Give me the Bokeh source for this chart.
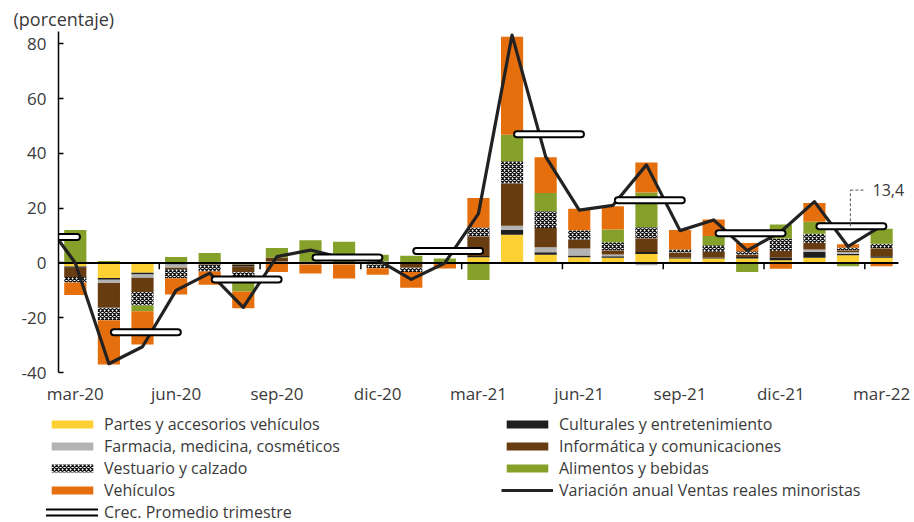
import numpy as np
from bokeh.plotting import figure
from bokeh.models import Range1d, FixedTicker, Legend, LegendItem, Label
from bokeh.embed import file_html
from bokeh.resources import INLINE

# ---------------- data ----------------
months = ["mar-20", "abr-20", "may-20", "jun-20", "jul-20", "ago-20", "sep-20",
          "oct-20", "nov-20", "dic-20", "ene-21", "feb-21", "mar-21", "abr-21",
          "may-21", "jun-21", "jul-21", "ago-21", "sep-21", "oct-21", "nov-21",
          "dic-21", "ene-22", "feb-22", "mar-22"]
tick_months = ["mar-20", "jun-20", "sep-20", "dic-20", "mar-21", "jun-21",
               "sep-21", "dic-21", "mar-22"]

partes = [-1.3, -5.5, -3.6, -0.3, -0.2, -0.6, -0.3, 0, 0, 0, 0, 0.3, 2.1, 10.3,
          3.0, 2.1, 1.9, 3.3, 1.6, 1.6, 1.6, 1.0, 1.9, 2.8, 1.9]
culturales = [-0.5, -0.6, -0.6, -0.3, 0, -0.7, 0, 0, 0, -0.3, -0.3, 0, 0.4, 1.8,
              0.9, 0.6, 0.5, 0.7, 0.4, 0.4, 0.6, 1.0, 2.1, 0.6, 0.5]
farmacia = [0, -1.2, -1.2, -1.2, 0, 0, 0.5, -0.6, -0.6, 0.6, 0, 0, 0, 1.5,
            1.8, 2.6, 0.7, -0.8, 0, 0, 0, 0, 0.9, 0.6, 0]
informatica = [-3.3, -9.1, -5.2, -0.5, -0.5, -2.1, 1.5, 0.5, 0, -0.3, -1.5, -0.2,
               7.2, 15.5, 7.1, 3.3, 1.5, 5.0, 1.8, 2.1, 0.9, 2.4, 2.4, 0.6, 3.0]
vestuario = [-2.0, -4.5, -4.9, -3.3, -2.4, -3.0, 0, 0, 0, -1.3, -1.5, 0, 3.2, 8.0,
             6.1, 3.3, 3.0, 4.0, 1.1, 2.4, 1.2, 4.5, 3.4, 1.0, 1.6]
alimentos = [12.0, 0.7, -2.1, 2.2, 3.6, -4.0, 3.5, 7.8, 7.7, 2.4, 2.6, 1.3, -6.2,
             9.7, 6.6, 0, 4.6, 12.7, 0, 3.3, -3.3, 5.1, 4.3, -1.2, 5.5]
vehiculos = [-4.6, -16.2, -12.2, -5.9, -4.9, -6.1, -3.0, -3.3, -5.1, -2.4, -5.8,
             -1.8, 10.8, 35.8, 13.1, 7.9, 8.5, 11.0, 7.1, 6.1, 3.0, -2.1, 6.9, 1.2, -1.2]

# monthly line (starts feb-20, just left of the axis)
line_months = ["feb-20"] + months
ventas = [16.8, 0.0, -36.8, -30.6, -10.0, -3.7, -16.2, 2.3, 4.7, 1.7, 1.1, -6.0,
          0.0, 18.0, 83.2, 38.8, 19.3, 21.0, 35.8, 11.8, 15.7, 4.5, 11.4, 22.4,
          6.0, 13.5]

# quarterly average growth (Q1-20 ... Q1-22)
quarters = ["T1-20", "T2-20", "T3-20", "T4-20", "T1-21", "T2-21", "T3-21",
            "T4-21", "T1-22"]
prom_trim = [9.5, -25.3, -6.0, 2.0, 4.4, 47.0, 22.9, 10.8, 13.4]

y_ticks = [-40, -20, 0, 20, 40, 60, 80]
last_label = "13,4"

series = [
    ("Partes y accesorios vehículos", partes, "#FDD034", None),
    ("Culturales y entretenimiento", culturales, "#1F1F1F", None),
    ("Farmacia, medicina, cosméticos", farmacia, "#B3B3B3", None),
    ("Informática y comunicaciones", informatica, "#683C11", None),
    ("Vestuario y calzado", vestuario, "#FFFFFF", "diagonal_cross"),
    ("Alimentos y bebidas", alimentos, "#86A12A", None),
    ("Vehículos", vehiculos, "#E46F0C", None),
]

FONT = "Open Sans"
TXT = "#3a3a3a"
BAR_W = 0.66
FS = "17px"


def bar_style(color, hatch):
    kw = dict(fill_color=color, line_color=None)
    if hatch:
        kw.update(hatch_pattern=hatch, hatch_color="#111111", hatch_scale=4.0,
                  hatch_weight=1.3)
    return kw


LINE_KW = dict(line_color="#222222", line_width=3.2, line_join="round")
CAP_B = dict(line_color="black", line_width=8, line_cap="round")
CAP_W = dict(line_color="white", line_width=4, line_cap="round")

# ---------------- main figure ----------------
n = len(months)
x = np.arange(n)
xr = Range1d(-0.5, n - 0.5 + 0.3)
yr = Range1d(-40, 84.5)

p = figure(width=910, height=409, x_range=xr, y_range=yr,
           output_backend="svg", toolbar_location=None,
           min_border_left=58, min_border_right=2, min_border_top=31,
           min_border_bottom=37)
p.outline_line_color = None
p.grid.visible = False

p.title.text = "(porcentaje)"
p.title.text_font = FONT
p.title.text_font_size = "18px"
p.title.text_font_style = "normal"
p.title.text_color = TXT
p.title.align = "left"
p.title.offset = -45
p.title.standoff = 2

# stacked bars (positives up, negatives down)
pos_base = np.zeros(n)
neg_base = np.zeros(n)
for name, vals, color, hatch in series:
    v = np.array(vals, dtype=float)
    pos = np.where(v > 0, v, 0)
    neg = np.where(v < 0, v, 0)
    bottom = np.where(v >= 0, pos_base, neg_base)
    top = np.where(v >= 0, pos_base + pos, neg_base + neg)
    p.vbar(x=x, bottom=bottom, top=top, width=BAR_W, **bar_style(color, hatch))
    pos_base = pos_base + pos
    neg_base = neg_base + neg

# zero axis line and quarter ticks on it
p.segment(x0=[-0.5], y0=[0], x1=[n - 0.5], y1=[0], line_color="black",
          line_width=2)
qt = [i - 0.5 for i in range(3, n, 3)]
p.segment(x0=qt, y0=[0] * len(qt), x1=qt, y1=[-2.3] * len(qt),
          line_color="black", line_width=1.5)

# monthly line
lx = np.arange(-1, n)
p.line(lx, ventas, **LINE_KW)

# quarterly capsules
q_first = np.array([3 * i - 2 for i in range(len(quarters))])
q_x0 = q_first + 0.15
q_x1 = q_first + 2.05
p.segment(x0=q_x0, y0=prom_trim, x1=q_x1, y1=prom_trim, **CAP_B)
p.segment(x0=q_x0, y0=prom_trim, x1=q_x1, y1=prom_trim, **CAP_W)

# annotation of the last quarterly average
lead_x = q_first[-1] + 1.07
lead_y = prom_trim[-1] + 13.2
p.segment(x0=[lead_x, lead_x], y0=[prom_trim[-1], lead_y],
          x1=[lead_x, lead_x + 0.4], y1=[lead_y, lead_y],
          line_color="#555555", line_width=1, line_dash="3 2")
p.add_layout(Label(x=lead_x + 0.66, y=lead_y, text=last_label,
                   text_font=FONT, text_font_size="16px", text_color=TXT,
                   text_baseline="middle"))

# axes
p.yaxis.ticker = FixedTicker(ticks=y_ticks)
p.yaxis.major_label_overrides = {t: str(t) for t in y_ticks}
p.yaxis.major_tick_in = 5
p.yaxis.major_tick_out = 0
p.yaxis.minor_tick_line_color = None
p.yaxis.axis_line_color = "black"
p.yaxis.axis_line_width = 1.5
p.yaxis.major_tick_line_color = "black"
p.yaxis.major_tick_line_width = 1.5
p.yaxis.major_label_standoff = 12
p.yaxis.major_label_text_font = FONT
p.yaxis.major_label_text_font_size = FS
p.yaxis.major_label_text_color = TXT

tick_pos = [months.index(m) for m in tick_months]
p.xaxis.ticker = FixedTicker(ticks=tick_pos)
p.xaxis.major_label_overrides = {i: m for i, m in zip(tick_pos, tick_months)}
p.xaxis.axis_line_color = None
p.xaxis.major_tick_line_color = None
p.xaxis.minor_tick_line_color = None
p.xaxis.major_tick_out = 0
p.xaxis.major_label_standoff = 9
p.xaxis.major_label_text_font = FONT
p.xaxis.major_label_text_font_size = FS
p.xaxis.major_label_text_color = TXT

# ---------------- legend figure (below the chart) ----------------
lg = figure(width=910, height=113, x_range=Range1d(0, 1), y_range=Range1d(0, 1),
            output_backend="svg", toolbar_location=None,
            x_axis_location=None, y_axis_location=None,
            min_border=0, min_border_left=0, min_border_right=0,
            min_border_top=0, min_border_bottom=0)
lg.outline_line_color = None
lg.grid.visible = False

# legend-only renderers (hidden; they only provide the legend swatches)
leg_r = {}
for name, vals, color, hatch in series:
    leg_r[name] = lg.vbar(x=[-10], bottom=[-10], top=[-10], width=0.1,
                          visible=False, **bar_style(color, hatch))
r_line = lg.line([-10, -10], [-10, -10], visible=False, **LINE_KW)
r_cb = lg.segment(x0=[-10], y0=[-10], x1=[-10], y1=[-10], visible=False, **CAP_B)
r_cw = lg.segment(x0=[-10], y0=[-10], x1=[-10], y1=[-10], visible=False, **CAP_W)

names = [s[0] for s in series]
left_items = [LegendItem(label=names[i], renderers=[leg_r[names[i]]])
              for i in (0, 2, 4, 6)]
left_items.append(LegendItem(label="Crec. Promedio trimestre",
                             renderers=[r_cb, r_cw]))
right_items = [LegendItem(label=names[i], renderers=[leg_r[names[i]]])
               for i in (1, 3, 5)]
right_items.append(LegendItem(label="Variación anual Ventas reales minoristas",
                              renderers=[r_line]))


def make_legend(items, loc):
    return Legend(items=items, location=loc, orientation="vertical",
                  glyph_width=52, glyph_height=10, label_standoff=6,
                  spacing=0, padding=0, margin=0, label_height=21,
                  label_text_font=FONT, label_text_font_size="16px",
                  label_text_color=TXT, border_line_color=None,
                  background_fill_alpha=0, click_policy="none")


lg.add_layout(make_legend(left_items, (46, -1)), "center")
lg.add_layout(make_legend(right_items, (501, 21)), "center")

open("out.html", "w").write(file_html([p, lg], INLINE))
